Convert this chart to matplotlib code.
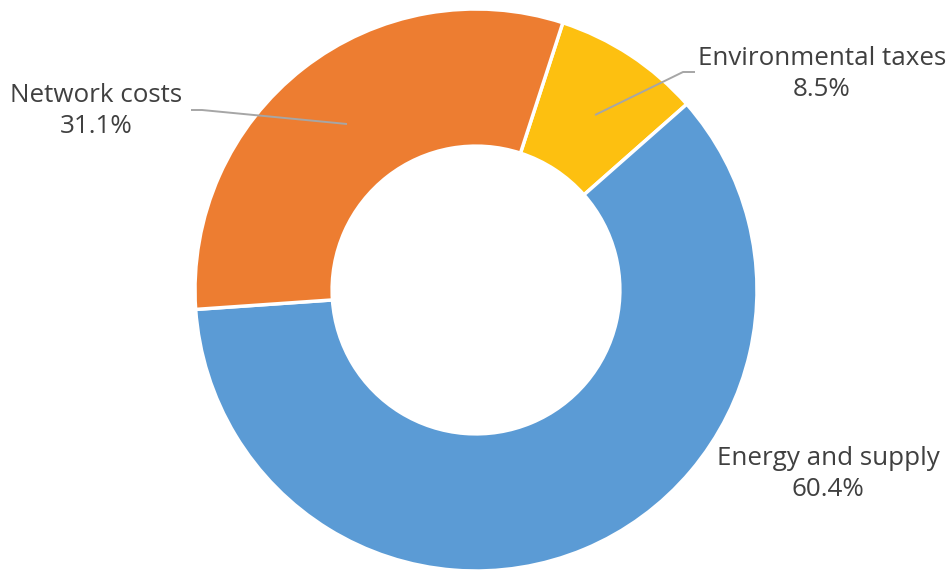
import matplotlib
matplotlib.use("Agg")
import matplotlib.pyplot as plt

categories = ["Environmental taxes", "Energy and supply", "Network costs"]
shares = [8.5, 60.4, 31.1]
colors = ["#FDC010", "#5B9BD5", "#ED7D31"]

W, H = 952, 572
fig = plt.figure(figsize=(W / 100, H / 100), dpi=100)
ax = fig.add_axes([0, 0, 1, 1])
ax.set_xlim(0, W)
ax.set_ylim(0, H)
ax.axis("off")

cx, cy, r = 476, H - 290, 281
ax.pie(shares, colors=colors, startangle=72, counterclock=False,
       center=(cx, cy), radius=r,
       wedgeprops=dict(width=r * 0.488, edgecolor="white", linewidth=2.5))
ax.set_xlim(0, W)
ax.set_ylim(0, H)
ax.set_aspect("equal")

font = dict(family=["Open Sans", "DejaVu Sans"], fontsize=18.7, color="#404040",
            ha="center", va="center", linespacing=1.3)

def P(x, y):
    return x, H - y

label_pos = {
    "Environmental taxes": (822, 74),
    "Energy and supply": (828, 474),
    "Network costs": (96, 111),
}
for cat, val in zip(categories, shares):
    x, y = P(*label_pos[cat])
    ax.text(x, y, f"{cat}\n{val:.1f}%", **font)

lc = dict(color="#A6A6A6", linewidth=1.4, solid_capstyle="butt")
xs, ys = zip(P(595, 115), P(683, 72), P(695, 72))
ax.plot(xs, ys, **lc)
xs, ys = zip(P(191, 110), P(202, 110), P(347, 124))
ax.plot(xs, ys, **lc)

fig.savefig("out.png", dpi=100)
